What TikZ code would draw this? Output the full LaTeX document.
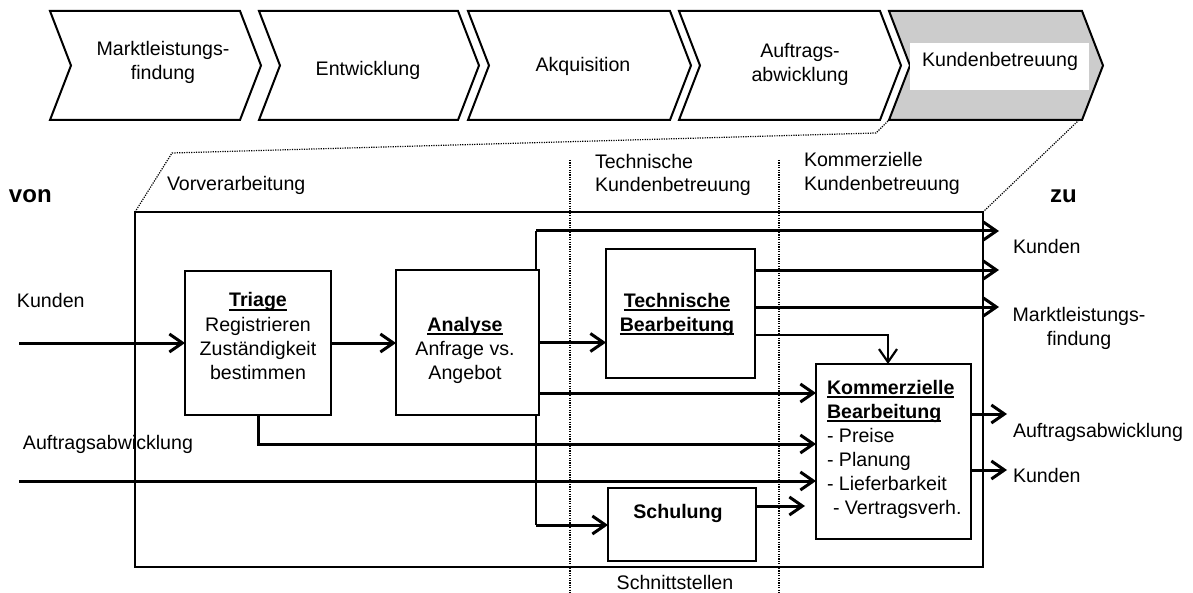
\documentclass[tikz,border=0pt]{standalone}
\usepackage{fontspec}
\setmainfont{Liberation Sans}
\usetikzlibrary{arrows.meta}
% underlined text with a rule that sits just under the baseline
\newcommand{\undr}[1]{\setbox0\hbox{#1}\rlap{\copy0}\rule[-1.8pt]{\wd0}{0.8pt}}
\begin{document}
\begin{tikzpicture}[x=0.5pt,y=-0.5pt,
  font=\fontsize{9.8}{12}\selectfont,
  every node/.style={inner sep=0pt, outer sep=0pt},
  chevron/.style={draw, line width=1pt, line join=miter, fill=white},
  frame/.style={draw, line width=1pt, anchor=north west},
  box/.style={draw, line width=1.1pt, fill=white, anchor=north west},
  flow/.style={line width=1.5pt, line join=miter, -{Straight Barb[length=6.5pt,width=9pt]}},
  thinwire/.style={line width=0.7pt},
  dotline/.style={line width=0.6pt, dash pattern=on 0.6pt off 0.6pt},
  txt/.style={anchor=base},
  ltxt/.style={anchor=base west},
  big/.style={font=\fontsize{12}{14}\selectfont\bfseries}]
\useasboundingbox (0,0) rectangle (1193,593);

% value chain along the top
\foreach \l/\r in {50/240, 259/458, 468/670, 679/880}
  \draw[chevron] (\l,11) -- (\r,11) -- (\r+21,65.5) -- (\r,120) -- (\l,120) -- (\l+21,65.5) -- cycle;
\draw[chevron, fill=black!20] (889,11) -- (1082,11) -- (1103,65.5) -- (1082,120) -- (889,120) -- (910,65.5) -- cycle;
\fill[white] (910,43) rectangle (1089,90);

% (the base of a multi-line node is the baseline of its last line)
\node[txt, align=center] (c1) at (163,80) {Marktleistungs-\\findung};
\node[txt] (c2) at (368,76) {Entwicklung};
\node[txt] (c3) at (583,72) {Akquisition};
\node[txt, align=center] (c4) at (800,82) {Auftrags-\\abwicklung};
\node[txt] (c5) at (1000,67) {Kundenbetreuung};

% process frame and its zoom-out lines to the highlighted step
\node[frame, minimum width=424pt, minimum height=177.5pt] (frame) at (135,212) {};
\draw[dotline] (frame.north west) -- (172,153) -- (876,133) -- (889,120);
\draw[dotline] (1079,120) -- (frame.north east);
\draw[dotline] (570,160) -- (570,593);
\draw[dotline] (779,160) -- (779,593);

% section headings
\node[ltxt] (vor) at (167,191) {Vorverarbeitung};
\node[ltxt, align=left] (tkb) at (595,192) {Technische\\Kundenbetreuung};
\node[ltxt, align=left] (kkb) at (804,191) {Kommerzielle\\Kundenbetreuung};
\node[txt] (schnitt) at (675,589) {Schnittstellen};
\node[ltxt, big] (von) at (9,203) {von};
\node[ltxt, big] (zu) at (1050,203) {zu};

% process steps
\node[box, minimum width=73pt, minimum height=72pt] (triage) at (185,271) {};
\node[box, minimum width=71.5pt, minimum height=72.5pt] (analyse) at (396,270) {};
\node[box, minimum width=74.5pt, minimum height=64.5pt] (tech) at (606,249) {};
\node[box, minimum width=77.5pt, minimum height=87.5pt] (komm) at (816,364) {};
\node[box, minimum width=74pt, minimum height=36.5pt] (schul) at (608,488) {};

\node[txt, align=center] (triage-t) at (258,379) {\undr{\bfseries Triage}\\Registrieren\\Zuständigkeit\\bestimmen};
\node[txt, align=center] (analyse-t) at (465,379) {\undr{\bfseries Analyse}\\Anfrage vs.\\Angebot};
\node[txt, align=center] (tech-t) at (677,331) {\undr{\bfseries Technische}\\\undr{\bfseries Bearbeitung}};
\node[ltxt, align=left] (komm-t) at (827,514) {\undr{\bfseries Kommerzielle}\\\undr{\bfseries Bearbeitung}\\- Preise\\- Planung\\- Lieferbarkeit\\\hspace*{3pt}- Vertragsverh.};
\node[txt] (schul-t) at (678,518) {\bfseries Schulung};

% inputs and outputs
\node[ltxt] (in-kunden) at (17,307) {Kunden};
\node[ltxt] (in-auftrag) at (23,449) {Auftragsabwicklung};
\node[ltxt] (out-kunden1) at (1013,254) {Kunden};
\node[txt, align=center] (out-markt) at (1079,345) {Marktleistungs-\\findung};
\node[ltxt] (out-auftrag) at (1013,437) {Auftragsabwicklung};
\node[ltxt] (out-kunden2) at (1013,482) {Kunden};

\coordinate (inK) at (19,343);
\coordinate (inA) at (19,481);
\coordinate (oK1) at (999,231);
\coordinate (oK2) at (999,270);
\coordinate (oM) at (999,307);
\coordinate (oA) at (1007,414);
\coordinate (oK3) at (1007,470);
\coordinate (jt) at (536,231);
\coordinate (jb) at (536,525);
\coordinate (jd) at (258,444);
\coordinate (l270) at (0,270);
\coordinate (l307) at (0,307);
\coordinate (l335) at (0,335);
\coordinate (l393) at (0,393);
\coordinate (l414) at (0,414);
\coordinate (l470) at (0,470);
\coordinate (l506) at (0,506);
\coordinate (x888) at (888,0);

% flows
\draw[flow] (inK) -- (triage.west);
\draw[flow] (triage.east) -- (triage.east -| analyse.west);
\draw[flow] (analyse.east) -- (analyse.east -| tech.west);
\draw[flow] (analyse.east |- l393) -- (komm.west |- l393);
\draw[thinwire] (analyse.north -| jt) -- (jt);
\draw[flow] (jt) -- (oK1);
\draw[thinwire] (analyse.south -| jb) -- (jb);
\draw[flow] (jb) -- (jb -| schul.west);
\draw[flow] (triage.south) |- (komm.west |- jd);
\draw[flow] (inA) -- (komm.west |- inA);
\draw[flow, shorten >=5.5pt] (schul.east |- l506) -- (komm.west |- l506);
\draw[flow] (tech.east |- l270) -- (oK2);
\draw[flow] (tech.east |- l307) -- (oM);
\draw[flow, line width=1.1pt] (tech.east |- l335) -| (komm.north -| x888);
\draw[flow] (komm.east |- l414) -- (oA);
\draw[flow] (komm.east |- l470) -- (oK3);
\end{tikzpicture}
\end{document}
